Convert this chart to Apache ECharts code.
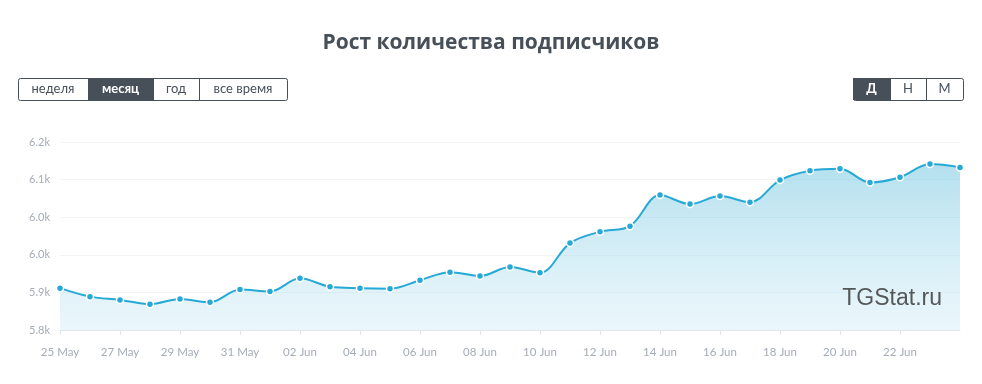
<!DOCTYPE html>
<html>
<head>
<meta charset="utf-8">
<script src="https://cdn.jsdelivr.net/npm/echarts@6/dist/echarts.min.js"></script>
<style>
html,body{margin:0;padding:0;background:#fff;}
#chart{width:982px;height:384px;}
</style>
</head>
<body>
<div id="chart"></div>
<script>
const titleText = 'Рост количества подписчиков';
const dates = ['25 May','26 May','27 May','28 May','29 May','30 May','31 May','01 Jun','02 Jun','03 Jun','04 Jun','05 Jun','06 Jun','07 Jun','08 Jun','09 Jun','10 Jun','11 Jun','12 Jun','13 Jun','14 Jun','15 Jun','16 Jun','17 Jun','18 Jun','19 Jun','20 Jun','21 Jun','22 Jun','23 Jun','24 Jun'];
const subscribers = [5889,5871,5864,5855,5866,5859,5886,5882,5910,5892,5889,5888,5906,5923,5915,5934,5922,5985,6009,6021,6087,6068,6085,6072,6119,6139,6143,6114,6125,6153,6146];
const periodButtons = ['неделя','месяц','год','все время'];
const periodWidths = [70,65,46,88];
const activePeriod = 1;
const scaleButtons = ['Д','Н','М'];
const scaleWidths = [37,36,37];
const activeScale = 0;
const yMin = 5800, yMax = 6200, yStep = 80;

const FONT = 'Lato, "Open Sans", "Noto Sans", sans-serif';
const DARK = '#474f59';

function buttonGroup(labels, widths, active, x0, y0, h) {
  const els = [];
  let x = x0;
  const total = widths.reduce((a,b)=>a+b,0);
  labels.forEach((lab, i) => {
    const w = widths[i];
    const isA = i === active;
    els.push({
      type: 'rect', shape: {x: x, y: y0, width: w, height: h},
      style: {fill: isA ? DARK : '#fff', stroke: 'none'}, z: 10
    });
    els.push({
      type: 'text', x: x + w/2, y: y0 + h/2,
      style: {text: lab, fill: isA ? '#fff' : '#474f59', font: (isA ? 'bold ' : '') + '13px ' + FONT,
              textAlign: 'center', textVerticalAlign: 'middle'}, z: 12
    });
    if (i > 0) {
      els.push({type: 'line', shape: {x1: x+0.5, y1: y0, x2: x+0.5, y2: y0+h},
        style: {stroke: DARK, lineWidth: 1}, z: 11});
    }
    x += w;
  });
  els.push({type: 'rect', shape: {x: x0+0.5, y: y0+0.5, width: total, height: h, r: 2},
    style: {fill: 'none', stroke: DARK, lineWidth: 1}, z: 13});
  return els;
}

const showLabel = (i) => i % 2 === 0 && i < dates.length - 1;

const chart = echarts.init(document.getElementById('chart'));
chart.setOption({
  animation: false,
  title: {
    text: titleText, left: 'center', top: 28,
    textStyle: {fontFamily: '"Open Sans", Lato, sans-serif', fontSize: 21, fontWeight: 'bold', color: DARK}
  },
  grid: {left: 60, right: 22, top: 142, bottom: 54},
  xAxis: {
    type: 'category', data: dates, boundaryGap: false,
    axisLine: {lineStyle: {color: '#e2e5ea'}},
    axisTick: {interval: showLabel, length: 5, lineStyle: {color: '#e2e5ea'}},
    axisLabel: {interval: showLabel, color: '#a5acb6', fontSize: 11.5, fontFamily: FONT, margin: 16}
  },
  yAxis: {
    type: 'value', min: yMin, max: yMax, interval: yStep,
    axisLine: {show: false}, axisTick: {show: false},
    splitLine: {lineStyle: {color: '#f3f4f6'}},
    axisLabel: {color: '#a5acb6', fontSize: 11, fontFamily: FONT, margin: 10,
      formatter: v => (v/1000).toFixed(1) + 'k'}
  },
  series: [{
    type: 'line', data: subscribers, smooth: 0.35,
    symbol: 'circle', symbolSize: 7, showSymbol: true,
    lineStyle: {color: '#27a9d6', width: 2},
    itemStyle: {color: '#27a9d6', borderColor: '#fff', borderWidth: 1.5},
    areaStyle: {color: new echarts.graphic.LinearGradient(0,0,0,1,[
      {offset: 0, color: 'rgba(120,200,226,0.8)'},
      {offset: 1, color: 'rgba(190,228,242,0.45)'}
    ])}
  }],
  graphic: [
    ...buttonGroup(periodButtons, periodWidths, activePeriod, 18, 78, 22),
    ...buttonGroup(scaleButtons, scaleWidths, activeScale, 853, 78, 22),
    {type: 'text', right: 40, top: 287, z: 20,
     style: {text: 'TGStat.ru', fill: 'rgba(60,60,60,0.85)', font: '23px "Liberation Sans", Arial, sans-serif'}}
  ]
});
</script>
</body>
</html>
